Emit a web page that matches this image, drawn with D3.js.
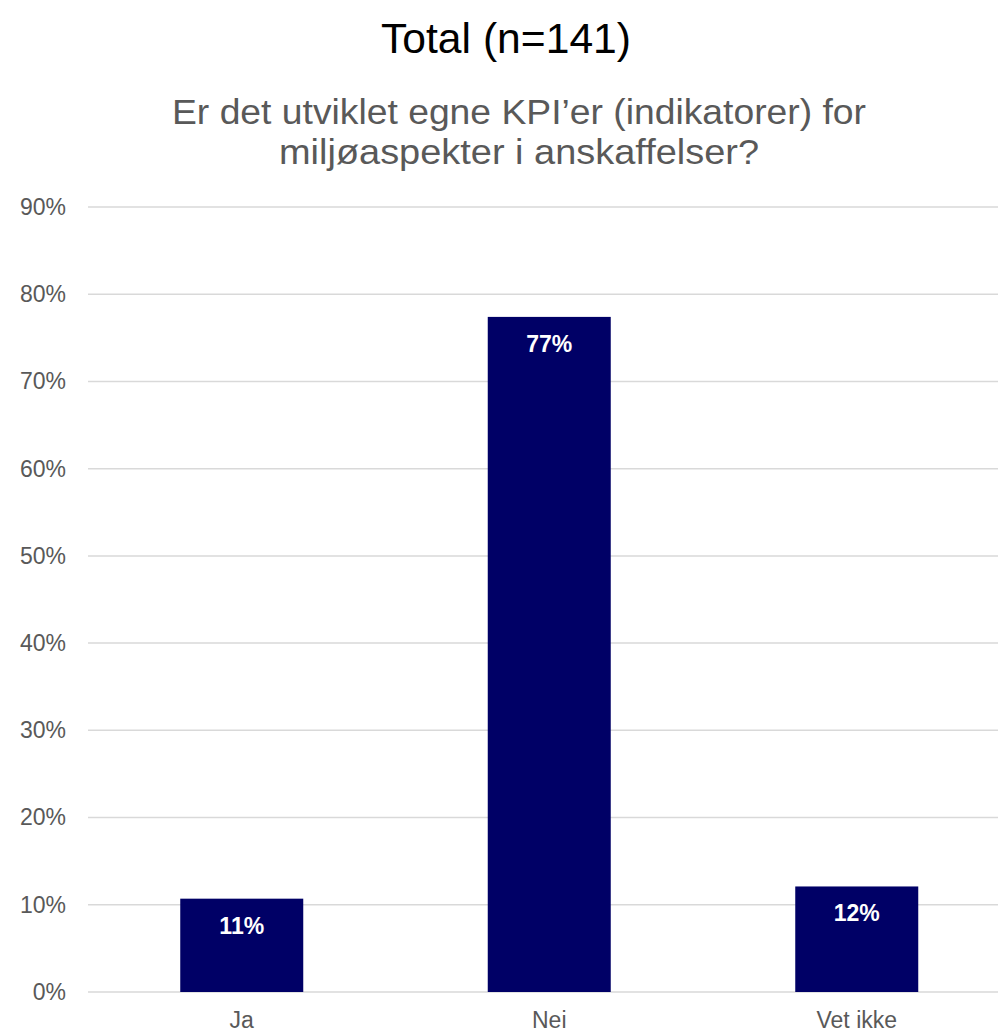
<!DOCTYPE html>
<html><head><meta charset="utf-8">
<script src="https://cdn.jsdelivr.net/npm/d3@7"></script>
<style>body{margin:0;background:#fff}svg{display:block}</style>
</head><body>
<svg id="c" width="1002" height="1028"></svg>
<script>
const categories = ["Ja", "Nei", "Vet ikke"];
const values = [0.107, 0.774, 0.121];
const valueLabels = ["11%", "77%", "12%"];
const yTicks = [0, 0.1, 0.2, 0.3, 0.4, 0.5, 0.6, 0.7, 0.8, 0.9];
const title = "Total (n=141)";
const subtitleLines = ["Er det utviklet egne KPI\u2019er (indikatorer) for", "milj\u00f8aspekter i anskaffelser?"];

(function () {
const svg = d3.select("#c");
const mLeft = 88, mRight = 998, mTop = 207, mBottom = 992;
const x = d3.scaleBand().domain(categories).range([mLeft, 1010.5]).paddingInner(0.6).paddingOuter(0.3);
const y = d3.scaleLinear().domain([0, 0.9]).range([mBottom, mTop]);

const narrow = "'Liberation Sans Narrow','Arial Narrow','Liberation Sans',Arial,sans-serif";
const sans = "'Liberation Sans',Arial,sans-serif";

svg.append("text").attr("x", 506).attr("y", 53).attr("text-anchor", "middle")
  .attr("font-family", narrow).attr("font-size", 42).attr("fill", "#000")
  .attr("textLength", 250).attr("lengthAdjust", "spacingAndGlyphs").text(title);

const subW = [694, 480];
subtitleLines.forEach((s, i) => {
  svg.append("text").attr("x", 519).attr("y", 124 + i * 40).attr("text-anchor", "middle")
    .attr("font-family", narrow).attr("font-size", 35).attr("fill", "#595959")
    .attr("textLength", subW[i]).attr("lengthAdjust", "spacingAndGlyphs").text(s);
});

svg.append("g").selectAll("line").data(yTicks).join("line")
  .attr("x1", mLeft).attr("x2", mRight).attr("y1", d => y(d)).attr("y2", d => y(d))
  .attr("stroke", "#d9d9d9").attr("stroke-width", 1.5);

const yAxis = d3.axisLeft(y).tickValues(yTicks).tickFormat(d3.format(".0%")).tickSize(0).tickPadding(22);
const ya = svg.append("g").attr("transform", `translate(${mLeft},0)`).call(yAxis);
ya.select(".domain").remove();
ya.selectAll("text").attr("font-family", sans).attr("font-size", 23).attr("fill", "#595959");

svg.append("g").selectAll("rect").data(values).join("rect")
  .attr("x", (d, i) => x(categories[i])).attr("width", x.bandwidth())
  .attr("y", d => y(d)).attr("height", d => y(0) - y(d)).attr("fill", "#000066");

svg.append("g").selectAll("text").data(values).join("text")
  .attr("x", (d, i) => x(categories[i]) + x.bandwidth() / 2).attr("y", d => y(d) + 35)
  .attr("text-anchor", "middle").attr("font-family", sans).attr("font-weight", "bold")
  .attr("font-size", 23).attr("fill", "#fff").text((d, i) => valueLabels[i]);

const xAxis = d3.axisBottom(x).tickSize(0).tickPadding(20);
const xa = svg.append("g").attr("transform", `translate(0,${mBottom})`).call(xAxis);
xa.select(".domain").remove();
xa.selectAll("text").attr("font-family", sans).attr("font-size", 23).attr("fill", "#595959");
})();
</script>
</body></html>
